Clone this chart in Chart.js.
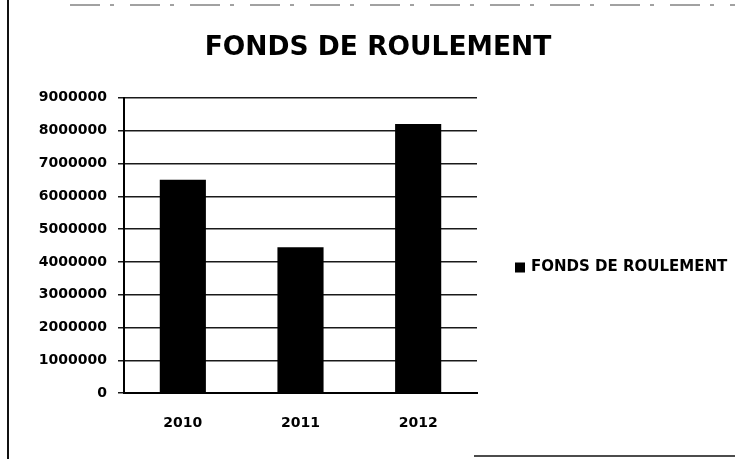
<!DOCTYPE html>
<html>
<head>
<meta charset="utf-8">
<script src="https://cdn.jsdelivr.net/npm/chart.js@4"></script>
<style>
    body { margin: 0; background: #fff; }
    #wrap { width: 735px; height: 459px; position: relative; }
</style>
</head>
<body>
<div id="wrap"><canvas id="chart"></canvas></div>
<script>
// données du graphique
const annees = ['2010', '2011', '2012'];
const fondsRoulement = [6500000, 4450000, 8200000];
const serieNom = 'FONDS DE ROULEMENT';
const titre = 'FONDS DE ROULEMENT';

// cadre scanné (bord gauche, haut et bas)
const cadre = {
    id: 'cadre',
    afterDraw(chart) {
        const ctx = chart.ctx;
        ctx.save();
        ctx.strokeStyle = '#111';
        ctx.lineWidth = 2;
        ctx.beginPath();
        ctx.moveTo(8, 0);
        ctx.lineTo(8, 459);
        ctx.stroke();
        ctx.lineWidth = 1;
        ctx.strokeStyle = '#444';
        ctx.setLineDash([30, 10, 4, 16]);
        ctx.beginPath();
        ctx.moveTo(70, 5);
        ctx.lineTo(735, 5);
        ctx.stroke();
        ctx.setLineDash([]);
        ctx.strokeStyle = '#111';
        ctx.lineWidth = 1.5;
        ctx.beginPath();
        ctx.moveTo(474, 456);
        ctx.lineTo(735, 456);
        ctx.stroke();
        ctx.restore();
    }
};

// légende dessinée à droite, à partir du jeu de données
const legendeDroite = {
    id: 'legendeDroite',
    afterDraw(chart) {
        const ctx = chart.ctx;
        const ds = chart.data.datasets[0];
        const y = (chart.chartArea.top + chart.chartArea.bottom) / 2 + 22;
        ctx.save();
        ctx.fillStyle = ds.backgroundColor;
        ctx.fillRect(515, y - 5, 10, 10);
        ctx.fillStyle = '#000';
        ctx.font = 'bold 15px "DejaVu Sans"';
        ctx.textBaseline = 'middle';
        ctx.fillText(ds.label, 531, y);
        ctx.restore();
    }
};

const ctx = document.getElementById('chart').getContext('2d');
new Chart(ctx, {
    type: 'bar',
    data: {
        labels: annees,
        datasets: [{
            label: serieNom,
            data: fondsRoulement,
            backgroundColor: '#000',
            borderWidth: 0,
            categoryPercentage: 0.8,
            barPercentage: 0.49
        }]
    },
    options: {
        responsive: true,
        maintainAspectRatio: false,
        animation: false,
        layout: { padding: { left: 35, right: 14, top: 0, bottom: 5 } },
        plugins: {
            title: {
                display: true,
                text: titre,
                color: '#000',
                font: { family: 'DejaVu Sans', size: 26.5, weight: 'bold' },
                padding: { top: 32, bottom: 34 }
            },
            legend: { display: false },
            tooltip: { enabled: false }
        },
        scales: {
            x: {
                grid: { display: false, drawTicks: false },
                border: { color: '#000', width: 2 },
                ticks: {
                    color: '#000',
                    padding: 22,
                    font: { family: 'DejaVu Sans', size: 14, weight: 'bold' }
                }
            },
            y: {
                min: 0,
                max: 9000000,
                afterFit(scale) { scale.width = 89; },
                ticks: {
                    stepSize: 1000000,
                    color: '#000',
                    padding: 11,
                    font: { family: 'DejaVu Sans', size: 14, weight: 'bold' },
                    callback: v => String(v)
                },
                grid: { color: '#1a1a1a', lineWidth: 1.5, tickLength: 6 },
                border: { color: '#000', width: 2 }
            },
            // espace réservé pour la légende
            yDroite: {
                position: 'right',
                min: 0,
                max: 1,
                afterFit(scale) { scale.width = 244; },
                ticks: { display: false },
                grid: { display: false, drawTicks: false },
                border: { display: false }
            }
        }
    },
    plugins: [cadre, legendeDroite]
});
</script>
</body>
</html>
